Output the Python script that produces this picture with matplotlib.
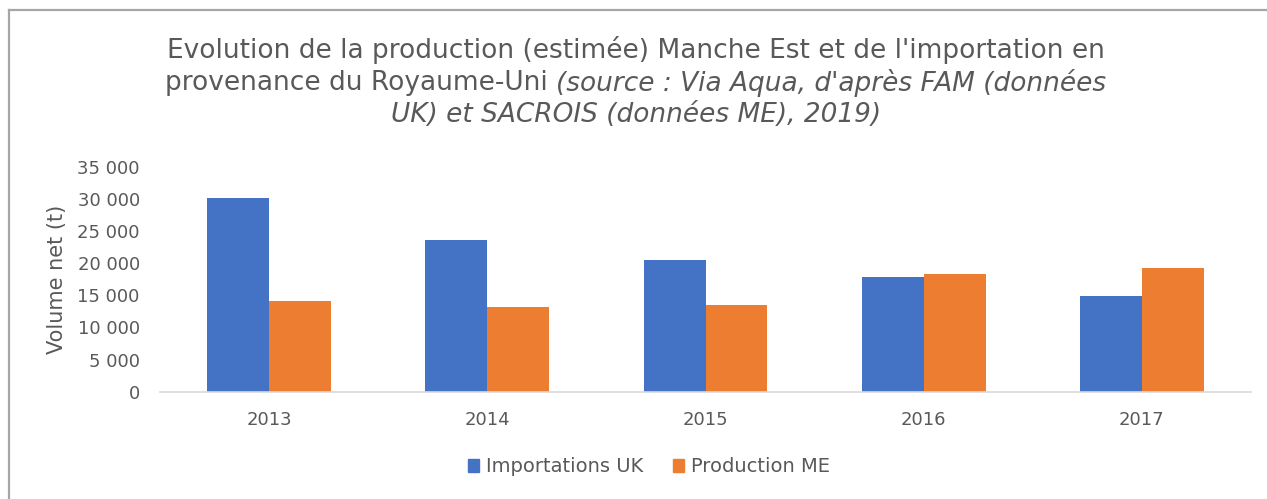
import matplotlib
matplotlib.use("Agg")
import matplotlib.pyplot as plt
from matplotlib.patches import Rectangle
import numpy as np

years = ["2013", "2014", "2015", "2016", "2017"]
importations_uk = [30100, 23600, 20500, 17800, 14900]
production_me = [14100, 13200, 13500, 18300, 19200]
yticks = [0, 5000, 10000, 15000, 20000, 25000, 30000, 35000]
ytick_labels = ["0", "5 000", "10 000", "15 000", "20 000", "25 000", "30 000", "35 000"]

BLUE = "#4472C4"
ORANGE = "#ED7D31"
TXT = "#595959"
FONT = "DejaVu Sans"

W, H = 1267, 499
fig = plt.figure(figsize=(W / 100, H / 100), dpi=100)
fig.patch.set_facecolor("white")

# outer chart border (left and top visible)
fig.add_artist(plt.Line2D([8.5 / W, 8.5 / W], [0, 1 - 10 / H], color="#A6A6A6", lw=1.6,
                          transform=fig.transFigure))
fig.add_artist(plt.Line2D([8.5 / W, 1], [1 - 10 / H, 1 - 10 / H], color="#A6A6A6", lw=1.6,
                          transform=fig.transFigure))

ax = fig.add_axes([160 / W, 1 - 391.7 / H, 1091 / W, 225 / H])
x = np.arange(len(years))
bw = 0.284
ax.bar(x - bw / 2, importations_uk, bw, color=BLUE, label="Importations UK")
ax.bar(x + bw / 2, production_me, bw, color=ORANGE, label="Production ME")
ax.set_xlim(-0.5, len(years) - 0.5)
ax.set_ylim(0, 35000)
ax.set_yticks(yticks)
ax.set_yticklabels(ytick_labels)
ax.set_xticks(x)
ax.set_xticklabels(years)
for s in ["top", "right", "left"]:
    ax.spines[s].set_visible(False)
ax.spines["bottom"].set_color("#D9D9D9")
ax.spines["bottom"].set_linewidth(1.2)
ax.tick_params(length=0, labelsize=13, labelcolor=TXT)
ax.tick_params(axis="y", pad=14.5)
ax.tick_params(axis="x", pad=14)
for t in ax.get_xticklabels() + ax.get_yticklabels():
    t.set_fontfamily(FONT)
ax.set_ylabel("Volume net (t)", fontsize=15, color=TXT, fontfamily=FONT)
ax.yaxis.set_label_coords(-0.085, 0.5)

# legend
handles = [Rectangle((0, 0), 1, 1, color=BLUE), Rectangle((0, 0), 1, 1, color=ORANGE)]
fig.legend(handles, ["Importations UK", "Production ME"], loc="center",
           bbox_to_anchor=(649 / W, 1 - 467 / H), ncol=2, frameon=False,
           prop={"family": FONT, "size": 14}, labelcolor=TXT,
           handlelength=0.6, handleheight=0.6, handletextpad=0.35, columnspacing=1.5)

# title with mixed styles
fig.canvas.draw()
r = fig.canvas.get_renderer()
TS = 19
cx = 636
lines = [
    (50, [("Evolution de la production (estimée) Manche Est et de l'importation en", "normal")]),
    (83, [("provenance du Royaume-Uni ", "normal"),
          ("(source : Via Aqua, d'après FAM (données", "italic")]),
    (115, [("UK) et SACROIS (données ME), 2019)", "italic")]),
]
for yc, pieces in lines:
    texts = [fig.text(0, 1 - yc / H, s, style=st, fontsize=TS, color=TXT, fontfamily=FONT,
                      va="center", ha="left") for s, st in pieces]
    widths = [t.get_window_extent(r).width for t in texts]
    x0 = cx - sum(widths) / 2
    for t, w in zip(texts, widths):
        t.set_x(x0 / W)
        x0 += w

fig.savefig("out.png", dpi=100, facecolor="white")
